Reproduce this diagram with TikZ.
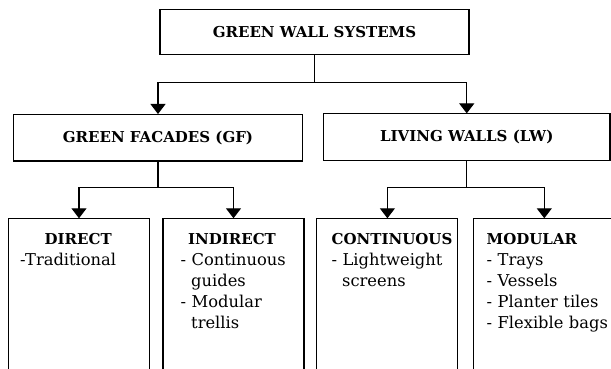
\documentclass[tikz,border=0pt]{standalone}
\usepackage{fontspec}
\setmainfont{DejaVu Serif}
\usepackage{tikz}
\usetikzlibrary{arrows.meta,positioning}
\tikzset{every picture/.style={x=1pt,y=1pt}}
\newcommand{\wrapind}{\hspace*{10.5pt}}
\newcommand{\hd}[1]{{\fontsize{15}{21}\selectfont\bfseries #1}}
\newcommand{\hdc}[2]{\makebox[#1][c]{\hd{#2}}}

\begin{document}
\begin{tikzpicture}[->,>={Triangle[width=15pt,length=10pt]},line width=1.1pt]
  \tikzstyle{box}=[draw=black,rectangle,inner sep=0pt,
                   font=\fontsize{15}{21}\selectfont\bfseries]
  \tikzstyle{cat}=[box,minimum height=46.5pt]
  \tikzstyle{type}=[box,anchor=north,minimum width=141pt,minimum height=230pt]
  \tikzstyle{list}=[anchor=north west,inner sep=0pt,align=left,text width=125pt,
                    font=\fontsize{16.3}{21}\selectfont]

  \useasboundingbox (0,0) rectangle (611,369);
  \clip (0,0) rectangle (611,369);

  \node[cat,minimum width=309pt,minimum height=45.7pt] (gws) at (314.5,336.9) {GREEN WALL SYSTEMS};
  \node[cat,minimum width=289.4pt] (gf) at (158,231.2)   {GREEN FACADES (GF)};
  \node[cat,minimum width=286.5pt] (lw) at (466.75,231.8) {LIVING WALLS (LW)};

  \node[type] (direct)   at (79,150.7)    {};
  \node[type] (indirect) at (233.5,150.7) {};
  \node[type] (cont)     at (387.4,150.7) {};
  \node[type] (modular)  at (544.3,150.7) {};

  \node[list] at ([xshift=11.7pt,yshift=-14.7pt]direct.north west)
    {\hdc{116pt}{DIRECT}\\-Traditional};
  \node[list] at ([xshift=17.7pt,yshift=-14.7pt]indirect.north west)
    {\hdc{102.6pt}{INDIRECT}\\- Continuous\\\wrapind guides\\- Modular\\\wrapind trellis};
  \node[list] at ([xshift=14.8pt,yshift=-14.7pt]cont.north west)
    {\hd{CONTINUOUS}\\- Lightweight\\\wrapind screens};
  \node[list] at ([xshift=12.9pt,yshift=-14.7pt]modular.north west)
    {\hd{MODULAR}\\- Trays\\- Vessels\\- Planter tiles\\- Flexible bags};

  \coordinate (j0) at (314.5,286.3);
  \coordinate (j1) at (158,181.7);
  \coordinate (j2) at (466.75,181.7);

  % branches
  \draw (gws.south) -- (j0) -| (gf.north);
  \draw (j0) -| (lw.north);
  \draw (gf.south) -- (j1) -| (direct.north);
  \draw (j1) -| (indirect.north);
  \draw (lw.south) -- (j2) -| (cont.north);
  \draw (j2) -| (modular.north);
\end{tikzpicture}
\end{document}
